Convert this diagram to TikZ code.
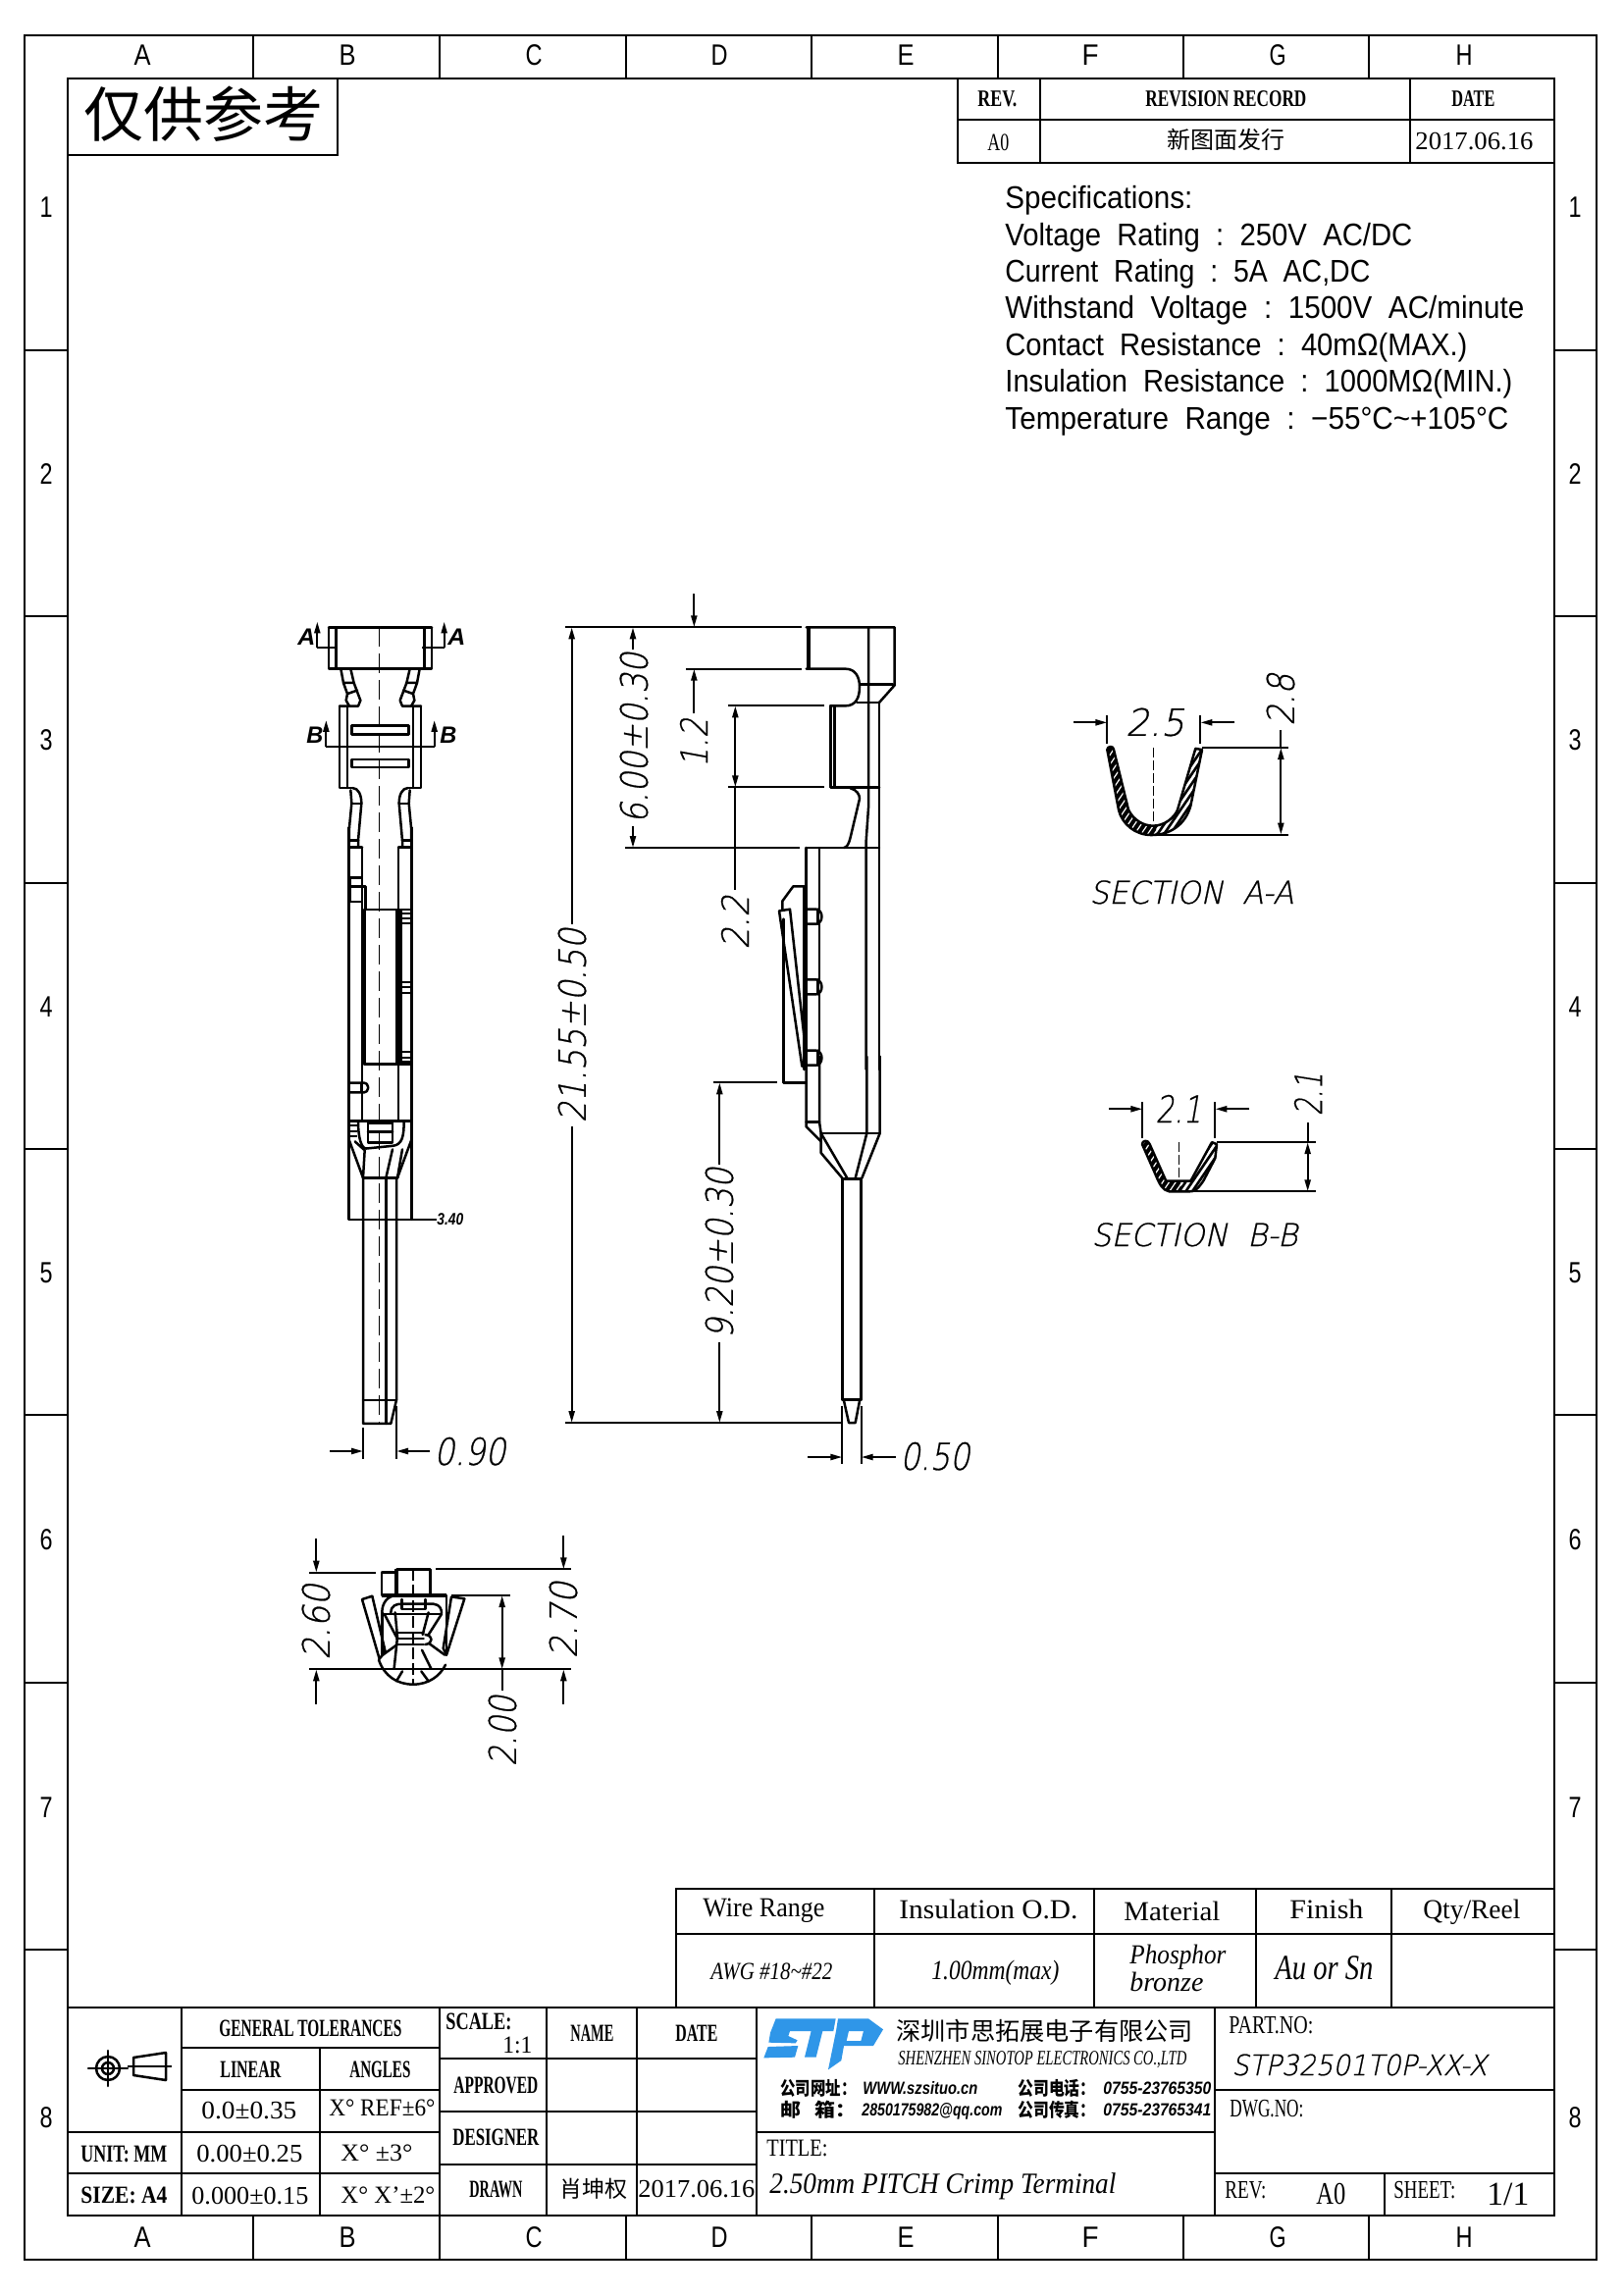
\documentclass[tikz,border=0pt]{standalone}
\usepackage{fontspec}
\usepackage{graphicx}
\usetikzlibrary{arrows.meta}
\setmainfont{Liberation Serif}
\newfontfamily\cjk{Noto Sans CJK SC}
\newfontfamily\sn{Liberation Sans}
\newfontfamily\dl[FakeSlant=0.22,FakeBold=0.7]{DejaVu Sans ExtraLight}
\newlength\pxu \setlength\pxu{0.5pt}
\newcommand\TX[3]{\resizebox{#1\pxu}{\height}{\fontsize{#2pt}{#2pt}\selectfont #3}}
\tikzset{
  x=0.5pt,y=-0.5pt,
  ln/.style={line width=1.25pt,line cap=round,line join=round},
  fr/.style={line width=1.35pt},
  thinl/.style={line width=0.6pt},
  hl/.style={line width=0.9pt,line join=round},
  dm/.style={line width=1.1pt},
  ar/.style={line width=1.1pt,-{Stealth[length=6pt,width=3pt,inset=0pt]}},
  aa/.style={line width=1.1pt,{Stealth[length=6pt,width=3pt,inset=0pt]}-{Stealth[length=6pt,width=3pt,inset=0pt]}},
  tb/.style={anchor=base west,inner sep=0pt,font=\rmfamily},
  tbb/.style={anchor=base west,inner sep=0pt,font=\rmfamily\bfseries},
  tbi/.style={anchor=base west,inner sep=0pt,font=\rmfamily\itshape},
  zh/.style={anchor=base west,inner sep=0pt,font=\cjk},
  sp/.style={anchor=base west,inner sep=0pt,font=\sn},
  sl/.style={anchor=base west,inner sep=0pt,font=\sn\itshape},
  dtl/.style={anchor=base west,inner sep=0pt,font=\dl},
  dt/.style={anchor=center,inner sep=0pt,font=\dl},
  lett/.style={anchor=base,inner sep=0pt,font=\sn},
  cl/.style={line width=0.8pt,dash pattern=on 10pt off 3.5pt},
}
\definecolor{stpblue}{HTML}{2F96E8}
\begin{document}
\begin{tikzpicture}
\useasboundingbox (0,0) rectangle (1654,2339);
\fill[white] (0,0) rectangle (1654,2339);
% ---------- frame
\draw[fr] (25,36) rectangle (1627,2303);
\draw[fr] (69,80) rectangle (1584,2258);
\foreach \p in {258,448,638,827,1017,1206,1395}{
  \draw[fr] (\p,36)--(\p,80);
  \draw[fr] (\p,2258)--(\p,2303);}
\foreach \p in {357,628,900,1171,1442,1715,1987}{
  \draw[fr] (25,\p)--(69,\p);
  \draw[fr] (1584,\p)--(1627,\p);}
\foreach \l/\p in {A/145,B/354,C/544,D/733,E/923,F/1111,G/1302,H/1492}{
  \node[lett] (top\l) at (\p,67) {\TX{17}{15}{\l}};
  \node[lett] (bot\l) at (\p,2290) {\TX{17}{15}{\l}};}
\foreach \l/\p in {1/210,2/482,3/753,4/1025,5/1296,6/1568,7/1841,8/2157}{
  \node[lett] (lft\l) at (47,\p+11) {\TX{13}{15}{\l}};
  \node[lett] (rgt\l) at (1605,\p+11) {\TX{13}{15}{\l}};}
% ---------- stamp
\draw[fr] (69,158)--(344,158)--(344,80);
\node[zh] (stamp) at (85,140) {\fontsize{30.5pt}{30.5pt}\selectfont 仅供参考};
% ---------- revision table
\draw[fr] (976,80) rectangle (1584,166);
\draw[fr] (976,122)--(1584,122);
\draw[fr] (1060,80)--(1060,166);
\draw[fr] (1437,80)--(1437,166);
\node[tbb] (rv1) at (996,109) {\TX{40}{12}{REV.}};
\node[tbb] (rv2) at (1167,109) {\TX{164}{12}{REVISION RECORD}};
\node[tbb] (rv3) at (1479,109) {\TX{44}{12}{DATE}};
\node[tb] (rv4) at (1006,153) {\TX{22}{12.5}{A0}};
\node[zh] (rv5) at (1189,152) {\fontsize{12pt}{12pt}\selectfont 新图面发行};
\node[tb] (rv6) at (1442,153) {\TX{120}{13}{2017.06.16}};
% ---------- specifications
\node[sp] (s1) at (1024,212) {\TX{191}{16}{Specifications:}};
\node[sp] (s2) at (1024,250) {\TX{415}{16}{Voltage~~Rating~~:~~250V~~AC/DC}};
\node[sp] (s3) at (1024,287) {\TX{372}{16}{Current~~Rating~~:~~5A~~AC,DC}};
\node[sp] (s4) at (1024,324) {\TX{529}{16}{Withstand~~Voltage~~:~~1500V~~AC/minute}};
\node[sp] (s5) at (1024,362) {\TX{471}{16}{Contact~~Resistance~~:~~40mΩ(MAX.)}};
\node[sp] (s6) at (1024,399) {\TX{517}{16}{Insulation~~Resistance~~:~~1000MΩ(MIN.)}};
\node[sp] (s7) at (1024,437) {\TX{513}{16}{Temperature~~Range~~:~~−55°C\char`\~+105°C}};
% ---------- left view
\begin{scope}[shift={(270,600)},x=0.16667pt,y=-0.2232pt]
\def\halfview{
 \draw[ln] (195,88)--(195,183)--(352,183) (195,88)--(352,88);
 \draw[ln] (218,88)--(218,183);
 \draw[ln] (232,183)--(240,215)--(252,240)--(248,255)--(258,268);
 \draw[ln] (262,183)--(272,215)--(292,255)--(285,268)--(228,268);
 \draw[ln] (240,215)--(272,215) (252,240)--(282,232);
 \draw[ln] (228,268)--(228,455)--(268,455);
 \draw[ln] (252,268)--(252,455);
 \draw[ln] (262,460)--(265,490)--(258,545)--(257,590);
 \draw[ln] (268,455) .. controls (285,455) and (295,470) .. (295,490)--(285,575)--(285,590);
 \draw[ln] (265,490)--(295,490) (258,575)--(285,575);
 \draw[ln] (257,545)--(257,1440);
 \draw[ln] (297,590)--(297,1215) (257,590)--(297,590);
}
\halfview
\begin{scope}[shift={(705,0)},xscale=-1]\halfview\end{scope}
% section marks
\draw[dm] (218,135)--(160,135);
\draw[ar] (160,135)--(160,75);
\draw[dm] (480,135)--(548,135);
\draw[ar] (548,135)--(548,75);
\draw[dm] (187,360)--(520,360);
\draw[ar] (187,360)--(187,300);
\draw[ar] (518,360)--(518,300);
% slots
\draw[ln] (265,313) rectangle (440,333);
\draw[ln] (265,390) rectangle (440,408);
% tab upper
\draw[ln] (260,660) rectangle (297,715);
\draw[ln] (260,680)--(297,680)--(307,680)--(307,733);
% inner block
\draw[line width=2.2pt] (303,733)--(303,1085);
\draw[ln] (303,733)--(445,733) (303,1085)--(445,1085);
\fill (400,733) rectangle (420,1085);
\foreach \q in {742,752,764,898,910,922,1058,1070,1080}{\draw[hl] (420,\q)--(445,\q);}
% tab lower
\draw[ln,rounded corners=2pt] (260,1128)--(315,1128)--(315,1150)--(260,1150);
\draw[ln] (295,1128)--(295,1150);
% funnel
\draw[ln] (257,1215)--(448,1215);
\foreach \q in {1225,1238,1250}{\draw[hl] (260,\q)--(282,\q);}
\draw[ln] (315,1220) rectangle (390,1265);
\draw[ln] (315,1240)--(390,1240);
\draw[ln] (285,1215) .. controls (285,1255) and (295,1278) .. (310,1278)--(390,1272) .. controls (420,1270) and (425,1250) .. (425,1215);
\draw[ln] (257,1258)--(300,1345) (448,1258)--(405,1345);
\draw[ln] (275,1262)--(305,1282)--(300,1345);
\draw[ln] (300,1345)--(405,1345);
\draw[ln] (370,1345)--(390,1280) (405,1345)--(420,1280);
% pin
\draw[ln] (300,1345)--(300,1906)--(385,1906)--(402,1852)--(402,1345);
\draw[ln] (370,1345)--(370,1906);
\draw[ln] (300,1852)--(402,1852);
\draw[cl] (350,88)--(350,1906);
% 3.40
\draw[dm] (257,1440)--(525,1440);
% 0.90 dim
\draw[dm] (300,1915)--(300,1987) (402,1866)--(402,1987);
\draw[ar] (198,1969)--(300,1969);
\draw[ar] (504,1969)--(402,1969);
\end{scope}
\node[sl] (la1) at (303,657) {\TX{18}{12}{\textbf{A}}};
\node[sl] (la2) at (456,657) {\TX{18}{12}{\textbf{A}}};
\node[sl] (lb1) at (312,757) {\TX{17}{12}{\textbf{B}}};
\node[sl] (lb2) at (448,757) {\TX{17}{12}{\textbf{B}}};
\node[sl] (d340) at (445,1248) {\TX{27}{8.5}{\textbf{3.40}}};
\node[dtl] (d090) at (442,1493) {\TX{73}{19}{0.90}};
% ---------- right view upper
\begin{scope}[shift={(560,590)},x=0.16667pt,y=-0.16667pt]
\draw[line width=2.2pt] (792,148)--(792,275);
\draw[ln] (785,148)--(1055,148)--(1055,325)--(1008,378);
\draw[ln] (785,275)--(905,275) .. controls (935,275) and (948,300) .. (948,330) .. controls (948,365) and (935,388) .. (905,388)--(858,388);
\draw[ln] (975,148)--(975,700)--(968,800)--(968,1500);
\draw[ln] (950,322)--(1050,322) (940,378)--(1008,378);
\draw[ln] (1008,378)--(1008,1500);
\draw[ln] (860,388)--(860,637) (872,388)--(872,637);
\draw[ln] (860,637)--(1008,637);
\draw[ln] (920,640) .. controls (940,645) and (948,660) .. (948,672)--(920,790) .. controls (915,810) and (910,820) .. (900,822);
\draw[ln] (785,822)--(1008,822);
\draw[ln] (785,822)--(785,1500);
\draw[ln] (825,822)--(825,1010);
\foreach \q in {1010,1225,1442}{
 \draw[ln] (785,\q)--(815,\q) .. controls (838,\q+2) and (838,\q+43) .. (815,\q+45)--(785,\q+45);
 \draw[ln] (820,\q)--(820,\q+45);}
\draw[ln] (825,1055)--(825,1225) (825,1270)--(825,1442);
\draw[ln] (778,940)--(745,940)--(712,985)--(712,1012);
\draw[ln] (778,940)--(778,1500);
\draw[ln] (702,1015)--(735,1010)--(785,1460)--(772,1490)--(702,1015);
\draw[ln] (715,1040)--(715,1500);
% extensions and dims
\draw[dm] (48,148)--(770,148);
\draw[ar] (442,45)--(442,148);
\draw[dm] (232,822)--(765,822);
\draw[dm] (418,275)--(770,275);
\draw[dm] (545,388)--(840,388);
\draw[dm] (545,637)--(840,637);
\draw[ar] (68,1055)--(68,148);
\draw[ar] (255,215)--(255,148);
\draw[ar] (255,755)--(255,822);
\draw[ar] (442,410)--(442,275);
\draw[aa] (568,388)--(568,637);
\draw[dm] (568,637)--(568,950);
\end{scope}
\node[dt,rotate=90] (d2155) at (583,1045) {\TX{198}{19}{21.55±0.50}};
\node[dt,rotate=90] (d600) at (646,752) {\TX{174}{19}{6.00±0.30}};
\node[dt,rotate=90] (d12) at (707,757) {\TX{50}{19}{1.2}};
\node[dt,rotate=90] (d22) at (749,940) {\TX{55}{19}{2.2}};
\node[dt,rotate=90] (d920) at (733,1277) {\TX{174}{19}{9.20±0.30}};
% ---------- right view lower
\begin{scope}[shift={(560,1080)},x=0.16667pt,y=-0.16667pt]
\draw[ln] (715,-20)--(715,70)--(785,70);
\draw[ln] (785,-10)--(785,205)--(830,250);
\draw[ln] (825,-10)--(825,190)--(830,225)--(830,285)--(895,362);
\draw[ln] (785,190)--(825,190);
\draw[ln] (830,225)--(1010,225);
\draw[ln] (970,-10)--(970,225)--(935,362);
\draw[ln] (1010,-10)--(1010,225)--(955,362);
\draw[ln] (830,225)--(910,362);
\draw[ln] (895,365)--(953,365);
\draw[ln] (895,365)--(895,1040) (953,365)--(953,1040);
\draw[ln] (895,1040)--(953,1040);
\draw[ln] (900,1043)--(915,1110)--(935,1110)--(948,1043);
\draw[dm] (895,1060)--(895,1235) (953,1060)--(953,1235);
\draw[dm] (48,1110)--(890,1110);
\draw[dm] (500,70)--(695,70);
\draw[ar] (68,205)--(68,1110);
\draw[ar] (520,320)--(520,70);
\draw[ar] (520,865)--(520,1110);
\draw[ar] (790,1215)--(895,1215);
\draw[ar] (1058,1215)--(953,1215);
\end{scope}
\node[dtl] (d050) at (917,1498) {\TX{71}{19}{0.50}};
% ---------- end view
\begin{scope}[shift={(280,1540)},x=0.16667pt,y=-0.16667pt]
\draw[dm] (105,188)--(310,188);
\draw[dm] (492,178)--(905,178);
\draw[dm] (105,484)--(905,484);
\draw[dm] (540,258)--(720,258);
\draw[ar] (127,85)--(127,188);
\draw[ar] (127,590)--(127,484);
\draw[ar] (883,75)--(883,178);
\draw[ar] (883,590)--(883,484);
\draw[aa] (695,258)--(695,484);
\draw[dm] (695,484)--(695,550);
\draw[ln] (373,178) rectangle (475,258);
\draw[line width=2pt] (373,178)--(373,258);
\draw[ln] (327,188) rectangle (373,258);
\draw[line width=2pt] (327,258)--(525,258);
\draw[ln] (267,270)--(298,260)--(338,430)--(320,452)--cycle;
\draw[ln] (540,262)--(580,268)--(525,440)--(515,420)--cycle;
\draw[ln] (318,455) .. controls (335,505) and (375,530) .. (423,530) .. controls (470,530) and (505,505) .. (522,470);
\draw[ln] (328,310) .. controls (328,280) and (345,260) .. (370,258);
\draw[ln] (525,258)--(525,440);
\draw[ln] (328,310)--(328,440);
\draw[ln] (355,312) .. controls (355,288) and (372,284) .. (388,284)--(485,284) .. controls (505,286) and (510,300) .. (510,312);
\draw[ln] (388,270)--(388,300)--(460,300)--(460,270);
\draw[ln] (335,315)--(510,315);
\draw[ln] (335,315)--(372,385) (510,315)--(470,378);
\draw[ln] (368,310)--(375,385)--(365,480);
\draw[ln] (470,310)--(452,378);
\foreach \q in {372,390,408}{\draw[ln] (372,\q)--(455,\q);}
\draw[ln] (460,378) .. controls (485,380) and (485,405) .. (460,408);
\draw[ln] (330,440)--(372,410) (520,440)--(472,405);
\draw[ln] (450,425)--(478,482);
\draw[ln] (390,490)--(372,520) (448,490)--(470,520);
\draw[cl,dash pattern=on 6pt off 2pt] (423,178)--(423,530);
\end{scope}
\node[dt,rotate=90] (d260) at (322,1653) {\TX{77}{19}{2.60}};
\node[dt,rotate=90] (d270) at (574,1651) {\TX{78}{19}{2.70}};
\node[dt,rotate=90] (d200) at (512,1764) {\TX{72}{19}{2.00}};
% ---------- section A-A
\begin{scope}[shift={(1060,660)},x=0.16667pt,y=-0.2041pt]
\def\secA{(205,255) .. controls (205,245) and (225,245) .. (225,255)--(270,405) .. controls (285,430) and (315,445) .. (345,445) .. controls (380,445) and (410,425) .. (420,405)--(475,252)--(495,255)--(460,395) .. controls (445,440) and (400,468) .. (340,468) .. controls (290,468) and (250,440) .. (240,405)--cycle}
\fill[black] \secA;
\begin{scope}
\clip \secA;
\foreach \q in {0,20,...,1000}{\draw[white,line width=0.6pt] (\q,500)--(\q+250,200);}
\clip (355,200) rectangle (520,500);
\foreach \q in {0,20,...,1000}{\draw[white,line width=1.3pt] (\q,500)--(\q+250,200);}
\end{scope}
\draw[ln] \secA;
\draw[dm] (205,170)--(205,240) (490,170)--(490,240);
\draw[ar] (103,187)--(205,187);
\draw[ar] (595,187)--(490,187);
\draw[dm] (495,250)--(758,250) (340,467)--(758,467);
\draw[aa] (736,250)--(736,467);
\draw[dm] (736,250)--(736,205);
\draw[cl,dash pattern=on 5pt off 1.5pt] (347,250)--(347,440);
% section B-B
\def\secB{(312,1240) .. controls (312,1230) and (330,1228) .. (335,1240)--(385,1332)--(460,1332)--(525,1235)--(540,1240)--(535,1275)--(500,1330) .. controls (480,1355) and (470,1358) .. (455,1358)--(395,1358) .. controls (375,1355) and (365,1340) .. (355,1320)--cycle}
\fill[black] \secB;
\begin{scope}
\clip \secB;
\foreach \q in {0,20,...,1000}{\draw[white,line width=0.6pt] (\q,1400)--(\q+250,1100);}
\clip (430,1100) rectangle (560,1400);
\foreach \q in {0,20,...,1000}{\draw[white,line width=1.3pt] (\q,1400)--(\q+250,1100);}
\end{scope}
\draw[ln] \secB;
\draw[dm] (313,1135)--(313,1225) (535,1135)--(535,1225);
\draw[ar] (210,1152)--(313,1152);
\draw[ar] (640,1152)--(535,1152);
\draw[dm] (540,1235)--(842,1235) (395,1358)--(842,1358);
\draw[aa] (818,1235)--(818,1358);
\draw[dm] (818,1235)--(818,1185);
\draw[cl,dash pattern=on 5pt off 1.5pt] (425,1235)--(425,1330);
\end{scope}
\node[dt] (d25) at (1177,736) {\TX{60}{19}{2.5}};
\node[dt,rotate=90] (d28) at (1305,713) {\TX{53}{19}{2.8}};
\node[dt] (d21a) at (1201,1130) {\TX{47}{19}{2.1}};
\node[dt,rotate=90] (d21b) at (1333,1115) {\TX{44}{19}{2.1}};
\node[dtl] (secA) at (1110,921) {\TX{208}{16}{SECTION~~A-A}};
\node[dtl] (secB) at (1112,1270) {\TX{210}{16}{SECTION~~B-B}};
% ---------- spec table
\draw[thinl] (689,2046)--(689,1925)--(1584,1925);
\draw[thinl] (689,1971)--(1584,1971);
\foreach \p in {891,1115,1280,1418}{\draw[thinl] (\p,1925)--(\p,2046);}
\node[tb] (w1) at (716,1953) {\TX{124}{14}{Wire Range}};
\node[tb] (w2) at (916,1955) {\TX{182}{14}{Insulation O.D.}};
\node[tb] (w3) at (1145,1957) {\TX{98}{14}{Material}};
\node[tb] (w4) at (1314,1955) {\TX{75}{14}{Finish}};
\node[tb] (w5) at (1450,1955) {\TX{99}{14}{Qty/Reel}};
\node[tbi] (w6) at (724,2017) {\TX{124}{12.5}{AWG \#18\char`\~\#22}};
\node[tbi] (w7) at (949,2017) {\TX{130}{14}{1.00mm(max)}};
\node[tbi] (w8) at (1151,2001) {\TX{98}{14}{Phosphor}};
\node[tbi] (w9) at (1151,2029) {\TX{75}{14}{bronze}};
\node[tbi] (w10) at (1299,2017) {\TX{100}{18}{Au or Sn}};
% ---------- title block
\draw[fr] (69,2046)--(1584,2046);
\draw[fr] (185,2046)--(185,2258);
\draw[fr] (185,2087)--(448,2087);
\draw[fr] (185,2130)--(448,2130);
\draw[fr] (69,2173)--(448,2173);
\draw[fr] (69,2215)--(448,2215);
\draw[fr] (326,2087)--(326,2258);
\draw[fr] (448,2046)--(448,2258);
\draw[fr] (557,2046)--(557,2258);
\draw[fr] (649,2046)--(649,2258);
\draw[fr] (771,2046)--(771,2258);
\draw[fr] (448,2098)--(771,2098);
\draw[fr] (448,2152)--(771,2152);
\draw[fr] (448,2206)--(771,2206);
\draw[fr] (771,2173)--(1238,2173);
\draw[fr] (1238,2046)--(1238,2258);
\draw[fr] (1238,2130)--(1584,2130);
\draw[fr] (1238,2215)--(1584,2215);
\draw[fr] (1411,2215)--(1411,2258);
% symbol
\draw[ln] (110,2108) circle (12);
\draw[ln] (110,2108) circle (6);
\draw[ln] (110,2090)--(110,2126) (90,2108)--(130,2108);
\draw[ln] (136,2097)--(169,2092)--(169,2120)--(136,2115)--cycle;
\draw[hl] (130,2106)--(175,2106);
\node[tbb] (g1) at (223,2075) {\TX{186}{12.5}{GENERAL TOLERANCES}};
\node[tbb] (g2) at (224,2117) {\TX{62}{12.5}{LINEAR}};
\node[tbb] (g3) at (356,2117) {\TX{62}{12.5}{ANGLES}};
\node[tb] (g4) at (205,2159) {\TX{97}{13}{0.0±0.35}};
\node[tb] (g5) at (335,2156) {\TX{108}{12.5}{X° REF±6°}};
\node[tbb] (g6) at (82,2203) {\TX{88}{12.5}{UNIT: MM}};
\node[tb] (g7) at (200,2203) {\TX{108}{13}{0.00±0.25}};
\node[tb] (g8) at (347,2202) {\TX{73}{12.5}{X° ±3°}};
\node[tbb] (g9) at (82,2245) {\TX{88}{12.5}{SIZE: A4}};
\node[tb] (g10) at (195,2246) {\TX{119}{13}{0.000±0.15}};
\node[tb] (g11) at (347,2245) {\TX{96}{12.5}{X° X'±2°}};
\node[tbb] (g12) at (454,2068) {\TX{67}{12.5}{SCALE:}};
\node[tb] (g13) at (512,2092) {\TX{30}{12.5}{1:1}};
\node[tbb] (g14) at (581,2080) {\TX{44}{12.5}{NAME}};
\node[tbb] (g15) at (688,2080) {\TX{43}{12.5}{DATE}};
\node[tbb] (g16) at (462,2133) {\TX{86}{12.5}{APPROVED}};
\node[tbb] (g17) at (461,2186) {\TX{88}{12.5}{DESIGNER}};
\node[tbb] (g18) at (478,2239) {\TX{54}{12.5}{DRAWN}};
\node[zh] (g19) at (570,2239) {\fontsize{11.5pt}{11.5pt}\selectfont 肖坤权};
\node[tb] (g20) at (650,2239) {\TX{119}{13}{2017.06.16}};
% logo and company
\begin{scope}[shift={(770,2050)},x=0.16667pt,y=-0.16667pt]
\fill[stpblue] (62,22)--(245,22)--(238,60)--(205,60)--(185,140)--(150,140)--(170,60)--(105,60)--(100,75)--(128,88)--(122,97)--(40,95)--(45,65)--cycle;
\fill[stpblue] (38,108)--(130,105)--(120,140)--(25,142)--cycle;
\fill[stpblue,even odd rule] (252,22)--(345,22)--(390,55)--(360,105)--(270,105)--(262,150)--(222,178)--(246,60)--cycle (285,60)--(330,60)--(322,90)--(278,90)--cycle;
\end{scope}
\node[zh] (c1) at (913,2079) {\fontsize{12.6pt}{12.6pt}\selectfont 深圳市思拓展电子有限公司};
\node[tbi] (c2) at (915,2104) {\TX{294}{10.5}{SHENZHEN SINOTOP ELECTRONICS CO.,LTD}};
\node[zh] (c3) at (795,2135) {\TX{77}{9.5}{\bfseries 公司网址：}};
\node[sl] (c4) at (879,2134) {\TX{117}{9}{\textbf{WWW.szsituo.cn}}};
\node[zh] (c5) at (1037,2135) {\TX{79}{9.5}{\bfseries 公司电话：}};
\node[sl] (c6) at (1124,2134) {\TX{110}{9}{\textbf{0755-23765350}}};
\node[zh] (c7) at (795,2157) {\TX{77}{9.5}{\bfseries 邮~~~箱：}};
\node[sl] (c8) at (878,2156) {\TX{143}{9}{\textbf{2850175982@qq.com}}};
\node[zh] (c9) at (1037,2157) {\TX{79}{9.5}{\bfseries 公司传真：}};
\node[sl] (c10) at (1124,2156) {\TX{110}{9}{\textbf{0755-23765341}}};
\node[tb] (t1) at (781,2197) {\TX{62}{12.5}{TITLE:}};
\node[tbi] (t2) at (784,2235) {\TX{353}{15}{2.50mm PITCH Crimp Terminal}};
\node[tb] (p1) at (1252,2072) {\TX{86}{13}{PART.NO:}};
\node[dtl] (p2) at (1255,2115) {\TX{260}{14.5}{STP32501T0P-XX-X}};
\node[tb] (p3) at (1253,2157) {\TX{75}{13}{DWG.NO:}};
\node[tb] (p4) at (1248,2240) {\TX{42}{13}{REV:}};
\node[tb] (p5) at (1341,2246) {\TX{30}{16}{A0}};
\node[tb] (p6) at (1420,2240) {\TX{63}{13}{SHEET:}};
\node[tb] (p7) at (1515,2247) {\TX{43}{17}{1/1}};
\end{tikzpicture}
\end{document}
